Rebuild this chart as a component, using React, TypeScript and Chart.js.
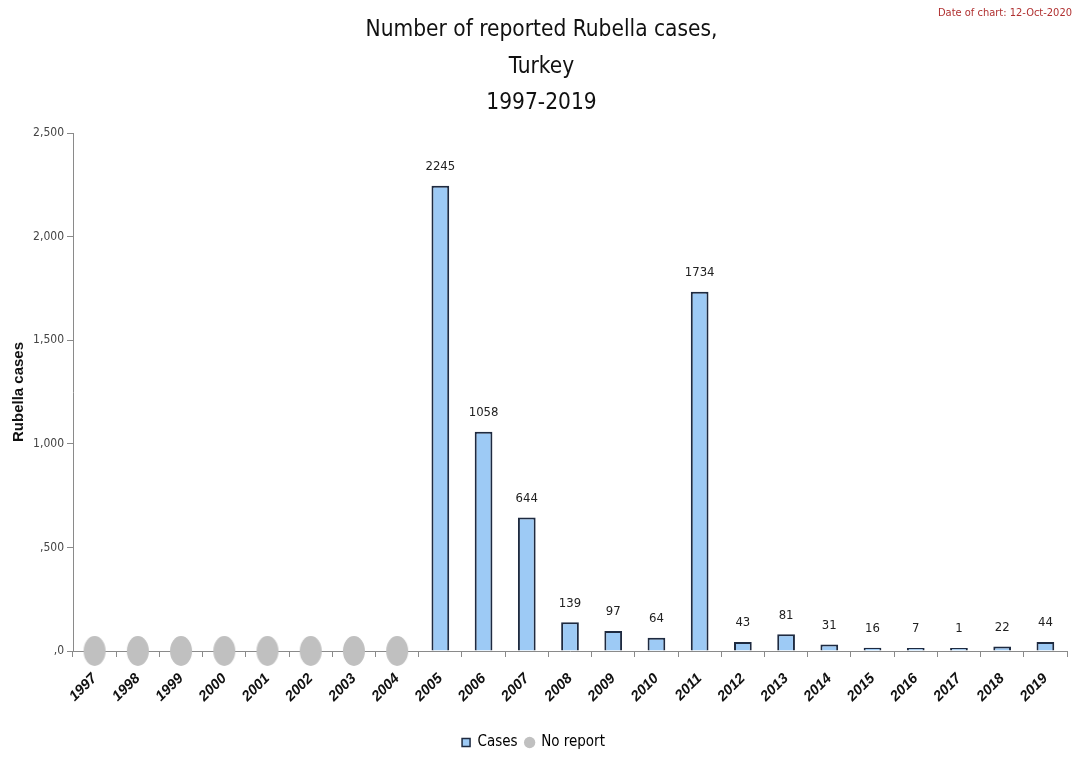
import React, { useEffect, useRef } from "react";
import { Chart, registerables } from "chart.js";

Chart.register(...registerables);

const years = ["1997","1998","1999","2000","2001","2002","2003","2004","2005","2006","2007","2008","2009","2010","2011","2012","2013","2014","2015","2016","2017","2018","2019"];
const cases: (number | null)[] = [null,null,null,null,null,null,null,null,2245,1058,644,139,97,64,1734,43,81,31,16,7,1,22,44];
const noReport: (number | null)[] = [0,0,0,0,0,0,0,0,null,null,null,null,null,null,null,null,null,null,null,null,null,null,null];
const yTickValues = [0, 500, 1000, 1500, 2000, 2500];
const yTickLabels = [",0", ",500", "1,000", "1,500", "2,000", "2,500"];
const titleLines = ["Number of reported Rubella cases,", "Turkey", "1997-2019"];
const dateText = "Date of chart: 12-Oct-2020";

const NARROW = '"Liberation Sans Narrow", "DejaVu Sans Condensed", sans-serif';
const ARIAL = '"Liberation Sans", Arial, sans-serif';

function makeEllipse(): HTMLCanvasElement {
  const c = document.createElement("canvas");
  c.width = 24;
  c.height = 32;
  const ctx = c.getContext("2d")!;
  ctx.fillStyle = "#c0c0c0";
  ctx.beginPath();
  ctx.ellipse(12, 16, 11, 15, 0, 0, Math.PI * 2);
  ctx.fill();
  return c;
}

const overlayPlugin = {
  id: "overlay",
  afterDatasetsDraw(chart: any) {
    const ctx = chart.ctx;
    const meta = chart.getDatasetMeta(0);
    ctx.save();
    ctx.font = `13px ${NARROW}`;
    ctx.fillStyle = "#222";
    ctx.textAlign = "center";
    ctx.textBaseline = "middle";
    const yScale = chart.scales.y;
    meta.data.forEach((bar: any, i: number) => {
      const v = cases[i];
      if (v === null || v === undefined) return;
      const top = Math.min(bar.y, yScale.getPixelForValue(0) - 3);
      ctx.fillText(String(v), bar.x, top - 19);
    });
    ctx.restore();
  },
  afterDraw(chart: any) {
    const ctx = chart.ctx;
    ctx.save();
    ctx.fillStyle = "#111";
    ctx.textAlign = "center";
    ctx.textBaseline = "middle";
    ctx.font = `22.5px ${NARROW}`;
    const cx = chart.width / 2;
    const ys = [30, 67, 103];
    titleLines.forEach((t, i) => ctx.fillText(t, cx, ys[i]));
    ctx.font = `11px ${NARROW}`;
    ctx.fillStyle = "#b03030";
    ctx.textAlign = "right";
    ctx.fillText(dateText, 1072, 13);
    ctx.restore();
  },
};

export default function App() {
  const ref = useRef<HTMLCanvasElement | null>(null);
  useEffect(() => {
    if (!ref.current) return;
    const ellipse = makeEllipse();
    const chart = new Chart(ref.current, {
      type: "bar",
      data: {
        labels: years,
        datasets: [
          {
            label: "Cases",
            data: cases,
            backgroundColor: "#9dcaf5",
            borderColor: "#1e2a40",
            borderWidth: 2,
            barPercentage: 0.41,
            categoryPercentage: 1,
            minBarLength: 3,
          } as any,
          {
            type: "line",
            label: "No report",
            data: noReport,
            showLine: false,
            pointStyle: ellipse,
            pointRadius: 12,
            backgroundColor: "#c0c0c0",
            borderColor: "#c0c0c0",
            clip: false,
          } as any,
        ],
      },
      options: {
        animation: false,
        responsive: true,
        maintainAspectRatio: false,
        layout: { padding: { top: 133, right: 16, left: 0, bottom: 0 } },
        plugins: {
          tooltip: { enabled: false },
          title: { display: false },
          legend: {
            display: true,
            position: "bottom",
            labels: {
              usePointStyle: true,
              boxWidth: 8,
              boxHeight: 8,
              padding: 8,
              color: "#111",
              font: { family: NARROW, size: 15 },
              generateLabels: () => [
                { text: "Cases", fillStyle: "#9dcaf5", strokeStyle: "#1e2a40", lineWidth: 1.5, pointStyle: "rect", datasetIndex: 0, hidden: false },
                { text: "No report", fillStyle: "#c0c0c0", strokeStyle: "#c0c0c0", lineWidth: 0, pointStyle: "circle", datasetIndex: 1, hidden: false },
              ] as any,
            },
          },
        },
        scales: {
          x: {
            offset: true,
            afterFit: (s: any) => { s.height = 76; },
            border: { display: true, color: "#8a8a8a", width: 1 },
            grid: { offset: true, drawOnChartArea: false, drawTicks: true, tickLength: 6, color: "#8a8a8a" },
            ticks: {
              maxRotation: 45,
              minRotation: 45,
              autoSkip: false,
              color: "#111",
              padding: 13,
              font: { family: ARIAL, size: 14.5, weight: "bold", style: "italic" },
            },
          },
          y: {
            min: 0,
            max: 2500,
            afterFit: (s: any) => { s.width = 73; },
            afterBuildTicks: (s: any) => { s.ticks = yTickValues.map((v) => ({ value: v })); },
            border: { display: true, color: "#8a8a8a", width: 1 },
            grid: { drawOnChartArea: false, drawTicks: true, tickLength: 6, color: "#8a8a8a" },
            title: {
              display: true,
              text: "Rubella cases",
              color: "#111",
              font: { family: ARIAL, size: 15, weight: "bold" },
              padding: { top: 10, bottom: 0 },
            },
            ticks: {
              color: "#444",
              padding: 3,
              font: { family: NARROW, size: 12 },
              callback: (v: any) => {
                const i = yTickValues.indexOf(Number(v));
                return i >= 0 ? yTickLabels[i] : "";
              },
            },
          },
        },
      },
      plugins: [overlayPlugin],
    });
    return () => chart.destroy();
  }, []);
  return (
    <div style={{ position: "fixed", left: 0, top: 0, width: 1083, height: 760, background: "#fff" }}>
      <canvas ref={ref} />
    </div>
  );
}
